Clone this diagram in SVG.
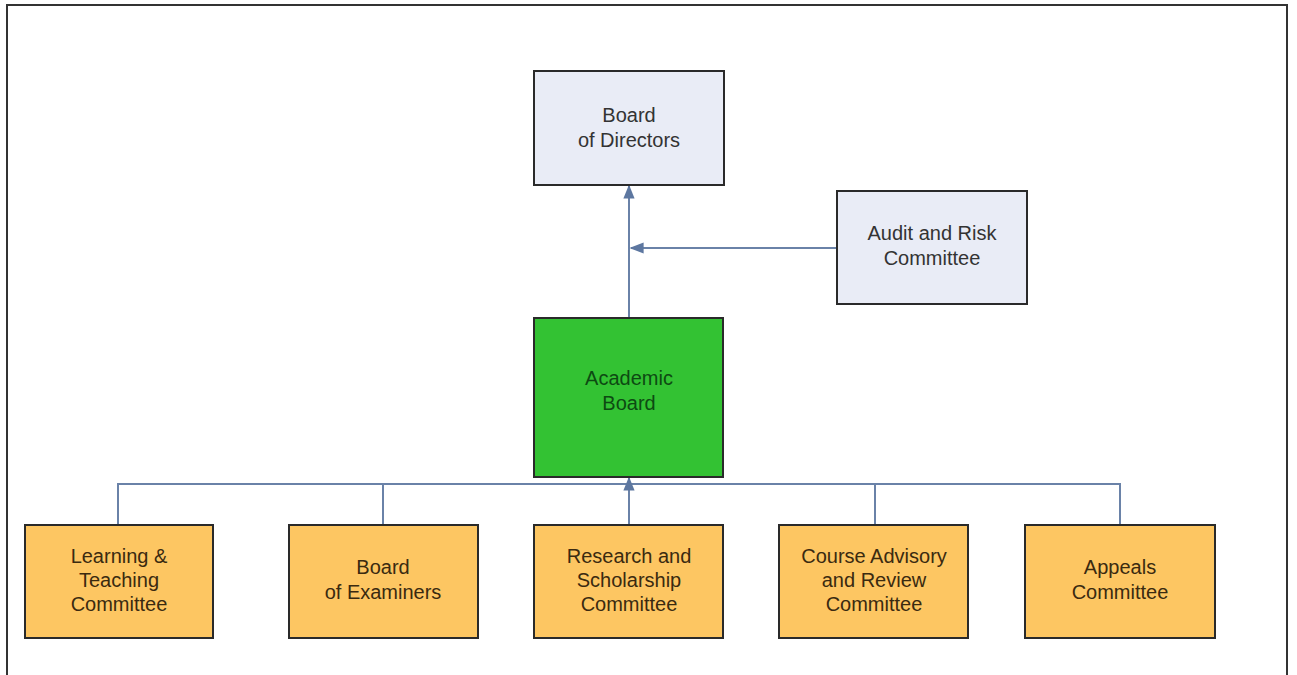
<svg xmlns="http://www.w3.org/2000/svg" width="1297" height="675" viewBox="0 0 1297 675">
<style>
.box{stroke:#2a2a2a;stroke-width:2}
.blue{fill:#e9ecf6}
.green{fill:#33c233}
.orange{fill:#fdc662}
text{font-family:"Liberation Sans",Arial,sans-serif;font-size:20px;text-anchor:middle;fill:#333}
.gt{fill:#0d4a12}
.ot{fill:#3a2a10}
.conn{stroke:#6a82a8;stroke-width:2;fill:none}
</style>
<defs>
<marker id="arrB" viewBox="0 0 10 10" refX="9" refY="5" markerWidth="14" markerHeight="14" markerUnits="userSpaceOnUse" orient="auto">
<path d="M0,1 L10,5 L0,9 z" fill="#5d77a0"/>
</marker>
</defs>
<rect width="1297" height="675" fill="#fff"/>
<path d="M7,675 V5 H1287 V675" fill="none" stroke="#333" stroke-width="2"/>
<g id="connectors">
<line class="conn" x1="629" y1="318" x2="629" y2="186" marker-end="url(#arrB)"/>
<line class="conn" x1="837" y1="248" x2="631" y2="248" marker-end="url(#arrB)"/>
<path class="conn" d="M118,525 V484 H1120 V525 M383,484 V525 M875,484 V525"/>
<line class="conn" x1="629" y1="525" x2="629" y2="478" marker-end="url(#arrB)"/>
</g>
<g id="board-of-directors">
<rect class="box blue" x="534" y="71" width="190" height="114"/>
<text x="629" y="122">Board</text>
<text x="629" y="147">of Directors</text>
</g>
<g id="audit-risk">
<rect class="box blue" x="837" y="191" width="190" height="113"/>
<text x="932" y="240">Audit and Risk</text>
<text x="932" y="265">Committee</text>
</g>
<g id="academic-board">
<rect class="box green" x="534" y="318" width="189" height="159"/>
<text class="gt" x="629" y="385">Academic</text>
<text class="gt" x="629" y="410">Board</text>
</g>
<g id="learning-teaching">
<rect class="box orange" x="25" y="525" width="188" height="113"/>
<text class="ot" x="119" y="563">Learning &amp;</text>
<text class="ot" x="119" y="587">Teaching</text>
<text class="ot" x="119" y="611">Committee</text>
</g>
<g id="board-examiners">
<rect class="box orange" x="289" y="525" width="189" height="113"/>
<text class="ot" x="383" y="574">Board</text>
<text class="ot" x="383" y="599">of Examiners</text>
</g>
<g id="research-scholarship">
<rect class="box orange" x="534" y="525" width="189" height="113"/>
<text class="ot" x="629" y="563">Research and</text>
<text class="ot" x="629" y="587">Scholarship</text>
<text class="ot" x="629" y="611">Committee</text>
</g>
<g id="course-advisory">
<rect class="box orange" x="779" y="525" width="189" height="113"/>
<text class="ot" x="874" y="563">Course Advisory</text>
<text class="ot" x="874" y="587">and Review</text>
<text class="ot" x="874" y="611">Committee</text>
</g>
<g id="appeals">
<rect class="box orange" x="1025" y="525" width="190" height="113"/>
<text class="ot" x="1120" y="574">Appeals</text>
<text class="ot" x="1120" y="599">Committee</text>
</g>
</svg>
